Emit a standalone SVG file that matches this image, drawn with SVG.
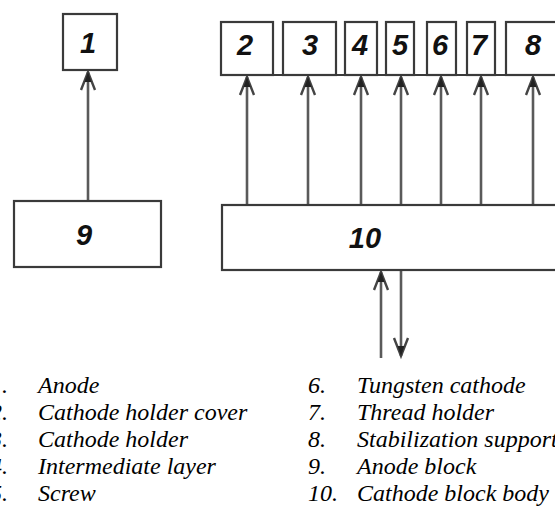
<svg xmlns="http://www.w3.org/2000/svg" width="555" height="506" viewBox="0 0 555 506">
<style>
.box{fill:#fff;stroke:#3a3a3a;stroke-width:2.2}
.lbl{font-family:"Liberation Sans",Arial,sans-serif;font-weight:bold;font-style:italic;font-size:29px;fill:#111;text-anchor:middle}
.con{stroke:#5a5a5a;stroke-width:2.6;fill:none}
.leg{font-family:"Liberation Serif","Times New Roman",serif;font-style:italic;font-size:24px;fill:#000}
</style>
<defs>
<marker id="ah" markerUnits="userSpaceOnUse" markerWidth="40" markerHeight="40" refX="0" refY="0" viewBox="-30 -20 40 40" orient="auto" overflow="visible">
<path d="M -18 -7 L 0 0 L -18 7" fill="none" stroke="#444" stroke-width="2.4" stroke-linejoin="miter"/>
<path d="M -10 -3.5 L 0 0 L -10 3.5 Z" fill="#222"/>
</marker>
</defs>
<g id="connectors">
<line class="con" x1="88" y1="201" x2="88" y2="72" marker-end="url(#ah)"/>
<line class="con" x1="247" y1="205" x2="247" y2="77" marker-end="url(#ah)"/>
<line class="con" x1="308" y1="205" x2="308" y2="77" marker-end="url(#ah)"/>
<line class="con" x1="361" y1="205" x2="361" y2="77" marker-end="url(#ah)"/>
<line class="con" x1="401" y1="205" x2="401" y2="77" marker-end="url(#ah)"/>
<line class="con" x1="441" y1="205" x2="441" y2="77" marker-end="url(#ah)"/>
<line class="con" x1="481" y1="205" x2="481" y2="77" marker-end="url(#ah)"/>
<line class="con" x1="533" y1="205" x2="533" y2="77" marker-end="url(#ah)"/>
<line class="con" x1="381" y1="358" x2="381" y2="272" marker-end="url(#ah)"/>
<line class="con" x1="401" y1="271" x2="401" y2="356" marker-end="url(#ah)"/>
</g>
<g id="node1"><rect class="box" x="63" y="14" width="54" height="56"/><text class="lbl" x="88" y="53">1</text></g>
<g id="node9"><rect class="box" x="14" y="201" width="147" height="66"/><text class="lbl" x="84" y="245">9</text></g>
<g id="node2"><rect class="box" x="221" y="22" width="52" height="53"/><text class="lbl" x="245" y="55">2</text></g>
<g id="node3"><rect class="box" x="283" y="22" width="53" height="53"/><text class="lbl" x="310" y="55">3</text></g>
<g id="node4"><rect class="box" x="345" y="22" width="32" height="53"/><text class="lbl" x="360" y="55">4</text></g>
<g id="node5"><rect class="box" x="386" y="22" width="28" height="53"/><text class="lbl" x="400" y="55">5</text></g>
<g id="node6"><rect class="box" x="427" y="22" width="29" height="53"/><text class="lbl" x="440" y="55">6</text></g>
<g id="node7"><rect class="box" x="467" y="22" width="28" height="53"/><text class="lbl" x="479" y="55">7</text></g>
<g id="node8"><rect class="box" x="506" y="22" width="60" height="53"/><text class="lbl" x="533" y="55">8</text></g>
<line x1="221" y1="75" x2="560" y2="75" stroke="#3a3a3a" stroke-width="2.2"/>
<g id="node10"><rect class="box" x="222" y="205" width="345" height="65"/><text class="lbl" x="365" y="248">10</text></g>
<g id="legend">
<text class="leg" x="-10" y="393">1.</text><text class="leg" x="38" y="393">Anode</text>
<text class="leg" x="-10" y="420">2.</text><text class="leg" x="38" y="420">Cathode holder cover</text>
<text class="leg" x="-10" y="447">3.</text><text class="leg" x="38" y="447">Cathode holder</text>
<text class="leg" x="-10" y="474">4.</text><text class="leg" x="38" y="474">Intermediate layer</text>
<text class="leg" x="-10" y="501">5.</text><text class="leg" x="38" y="501">Screw</text>
<text class="leg" x="308" y="393">6.</text><text class="leg" x="357" y="393">Tungsten cathode</text>
<text class="leg" x="308" y="420">7.</text><text class="leg" x="357" y="420">Thread holder</text>
<text class="leg" x="308" y="447">8.</text><text class="leg" x="357" y="447">Stabilization support</text>
<text class="leg" x="308" y="474">9.</text><text class="leg" x="357" y="474">Anode block</text>
<text class="leg" x="308" y="501">10.</text><text class="leg" x="357" y="501">Cathode block body</text>
</g>
</svg>
